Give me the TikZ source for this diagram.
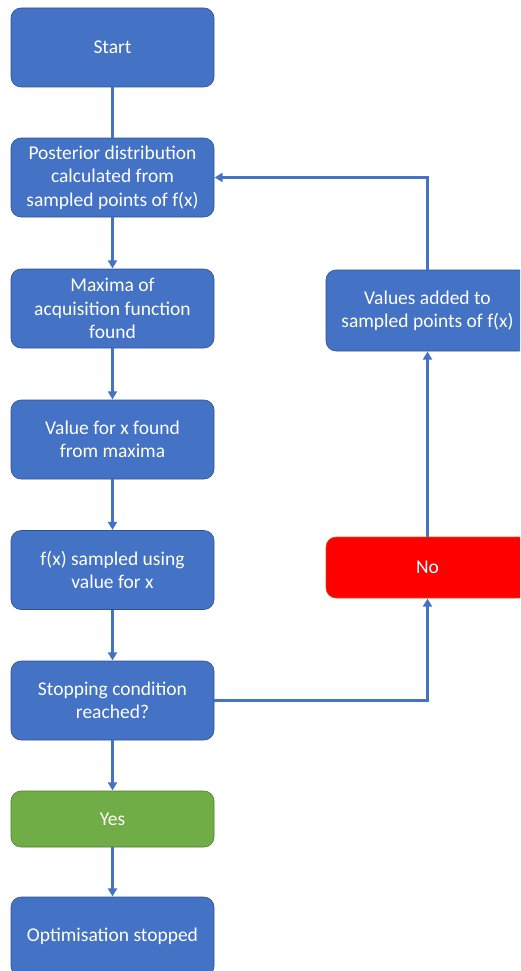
\documentclass[tikz,border=0pt]{standalone}
\usepackage{fontspec}
\setmainfont{Carlito}
\usetikzlibrary{arrows.meta}
\definecolor{oblue}{HTML}{4472C4}
\definecolor{oblueedge}{HTML}{2F528F}
\definecolor{ogreen}{HTML}{70AD47}
\definecolor{ogreenedge}{HTML}{507E32}
\definecolor{ored}{HTML}{FF0000}
\definecolor{orededge}{HTML}{C55A11}
\tikzset{
  box/.style={draw=oblueedge, fill=oblue, line width=0.6pt, rounded corners=10pt,
    minimum width=203pt, minimum height=79pt, text=white, align=center,
    font=\fontsize{19.5}{23.4}\selectfont, inner sep=0pt},
  greenbox/.style={box, draw=ogreenedge, fill=ogreen, minimum height=56pt},
  redbox/.style={box, draw=orededge, fill=ored, minimum height=61pt},
  conn/.style={draw=oblue, line width=2.5pt},
  arr/.style={conn, -{Triangle[length=8pt,width=9pt]}, shorten >=0.3pt}
}
\begin{document}
\begin{tikzpicture}[x=1pt,y=-1pt]
\useasboundingbox (0,0) rectangle (520,971);
\clip (0,0) rectangle (520,971);
\node[box] (st) at (112.5,47.5) {Start};
\node[box] (post) at (112.5,177.5) {Posterior distribution\\calculated from\\sampled points of f(x)};
\node[box] (maxa) at (112.5,308.5) {Maxima of\\acquisition function\\found};
\node[box] (val) at (112.5,439.5) {Value for x found\\from maxima};
\node[box] (fx) at (112.5,570) {f(x) sampled using\\value for x};
\node[box] (stop) at (112.5,700.5) {Stopping condition\\reached?};
\node[greenbox] (yes) at (112.5,819) {Yes};
\node[box] (opt) at (112.5,936.5) {Optimisation stopped};
\node[box, minimum height=81pt] (add) at (427.5,310.5) {Values added to\\sampled points of f(x)};
\node[redbox] (no) at (427.5,567.5) {No};
\draw[conn] (st) -- (post);
\draw[arr] (post) -- (maxa);
\draw[arr] (maxa) -- (val);
\draw[arr] (val) -- (fx);
\draw[arr] (fx) -- (stop);
\draw[arr] (stop) -- (yes);
\draw[arr] (yes) -- (opt);
\draw[arr] (stop.east) -| (no.south);
\draw[arr] (no.north) -- (add.south);
\draw[arr] (add.north) |- (post.east);
\end{tikzpicture}
\end{document}
